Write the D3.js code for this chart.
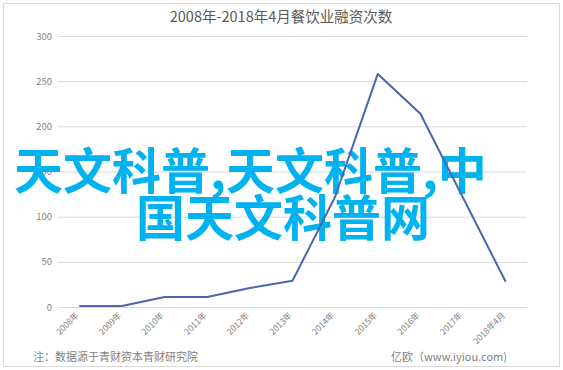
<!DOCTYPE html>
<html><head><meta charset="utf-8">
<script src="https://cdn.jsdelivr.net/npm/d3@7"></script>
<style>html,body{margin:0;padding:0;background:#fff;}svg{display:block;}</style>
</head><body>
<svg id="c" width="563" height="370"></svg>
<script>
const categories = ["2008年","2009年","2010年","2011年","2012年","2013年","2014年","2015年","2016年","2017年","2018年4月"];
const values = [1, 1, 11, 11, 21, 29, 122, 258, 214, 121, 28];
const yTicks = [0, 50, 100, 150, 200, 250, 300];
const title = "2008年-2018年4月餐饮业融资次数";
const noteLeft = "注：数据源于青财资本青财研究院";
const noteRight = "亿欧（www.iyiou.com)";
const watermark = ["天文科普,天文科普,中", "国天文科普网"];

const svg = d3.select("#c");
const font = "'Noto Sans CJK SC','Noto Sans',sans-serif";
svg.append("rect").attr("x",3.5).attr("y",3.5).attr("width",556).attr("height",363)
  .attr("fill","#fff").attr("stroke","#d9d9d9");

const x = d3.scaleBand().domain(categories).range([58, 527]);
const y = d3.scaleLinear().domain([0, 300]).range([307, 36]);

svg.append("text").attr("x", 281).attr("y", 22).attr("text-anchor","middle")
  .attr("font-family", font).attr("font-size", 14.5).attr("fill","#595959").text(title);

const ya = svg.append("g").attr("transform","translate(58,0)")
  .call(d3.axisLeft(y).tickValues(yTicks).tickSize(-(527-58)).tickPadding(6));
ya.select(".domain").remove();
ya.selectAll(".tick line").attr("stroke","#d9d9d9");
ya.selectAll(".tick text").attr("font-family", font).attr("font-size", 9.5).attr("fill","#7f7f7f");

const xa = svg.append("g").attr("transform","translate(0,307)")
  .call(d3.axisBottom(x).tickSize(0).tickPadding(0));
xa.select(".domain").remove();
xa.selectAll(".tick text").attr("font-family", font).attr("font-size", 8.5).attr("fill","#7f7f7f")
  .attr("text-anchor","end").attr("dy",0).attr("transform","translate(0,9) rotate(-45)");

// watermark
const wm = svg.append("g").attr("font-family", font).attr("font-weight", 700)
  .attr("font-size", 49).attr("fill", "#00b2f0");
wm.append("text").attr("x", 14).attr("y", 189).text(watermark[0]);
wm.append("text").attr("x", 136).attr("y", 236).text(watermark[1]);

const line = d3.line().x((d,i)=>x(categories[i]) + x.bandwidth()/2).y(d=>y(d));
svg.append("path").datum(values).attr("d", line).attr("fill","none")
  .attr("stroke","#4a66b0").attr("stroke-width",2).attr("stroke-linejoin","round");

svg.append("text").attr("x", 33).attr("y", 361).attr("font-family", font).attr("font-size", 11)
  .attr("fill","#7f7f7f").text(noteLeft);
svg.append("text").attr("x", 507).attr("y", 361).attr("text-anchor","end").attr("font-family", font)
  .attr("font-size", 11).attr("fill","#7f7f7f").text(noteRight);
</script>
</body></html>
